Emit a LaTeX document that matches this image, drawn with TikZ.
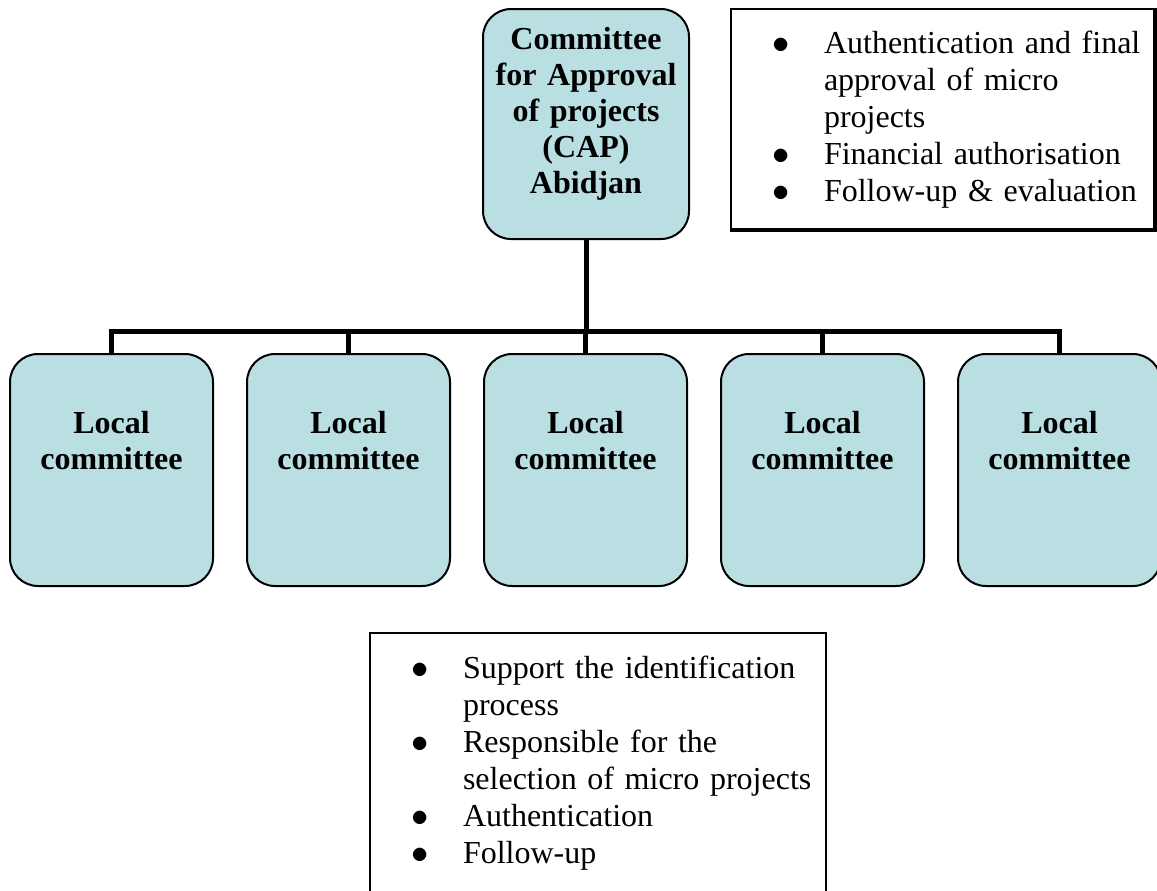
\documentclass[tikz,border=0pt]{standalone}
\usepackage{fontspec}
\setmainfont{Liberation Serif}
\usepackage{enumitem}
\definecolor{boxcyan}{RGB}{185,223,227}
\setlist[itemize]{label=$\bullet$, leftmargin=46.5pt, labelsep=17pt,
  itemsep=0pt, parsep=0pt, topsep=0pt, partopsep=0pt}
\tikzset{
  committee/.style={draw, line width=1pt, fill=boxcyan, rounded corners=14pt, anchor=north,
    align=center, font=\fontsize{16}{18}\selectfont\bfseries, inner xsep=4pt, inner ysep=0pt},
  notes/.style={draw, line width=1pt, anchor=north west, inner sep=0pt, align=left,
    font=\fontsize{16}{18.5}\selectfont},
  bus/.style={line width=2.5pt}
}
\begin{document}
\begin{tikzpicture}[x=0.5pt, y=-0.5pt]
	\clip (0,0) rectangle (1157,890);
	% approval committee and its tasks
	\node[committee, text width=95pt, text height=20pt, text depth=95pt] (cap) at (586,8)
		{Committee\\for Approval\\of projects\\(CAP)\\Abidjan};
	\node[notes, text width=211.5pt, text height=3.5pt, text depth=106.5pt] (captasks) at (730,8)
		{\begin{itemize}
			\item Authentication and final\\approval of micro\\projects
			\item Financial authorisation
			\item Follow-up \& evaluation
		\end{itemize}};
	\draw[line width=1.6pt] (captasks.north east)--(captasks.south east)--(captasks.south west);
	
	% local committees
	\foreach \i/\x in {1/111.5, 2/348.5, 3/585.5, 4/822.5, 5/1059.5}
		\node[committee, text width=93.5pt, text height=39.5pt, text depth=76.5pt] (lc\i) at (\x,353)
			{Local\\committee};
	\coordinate (bus) at (586,331);
	\draw[bus] (cap.south)--(bus);
	\foreach \i in {1,...,5}
		\draw[bus] (bus) -| (lc\i.north);
	
	\node[notes, text width=228pt, text height=4pt, text depth=150pt] (lctasks) at (369,632)
		{\begin{itemize}
			\item Support the identification\\process
			\item Responsible for the\\selection of micro projects
			\item Authentication
			\item Follow-up
		\end{itemize}};
\end{tikzpicture}
\end{document}
